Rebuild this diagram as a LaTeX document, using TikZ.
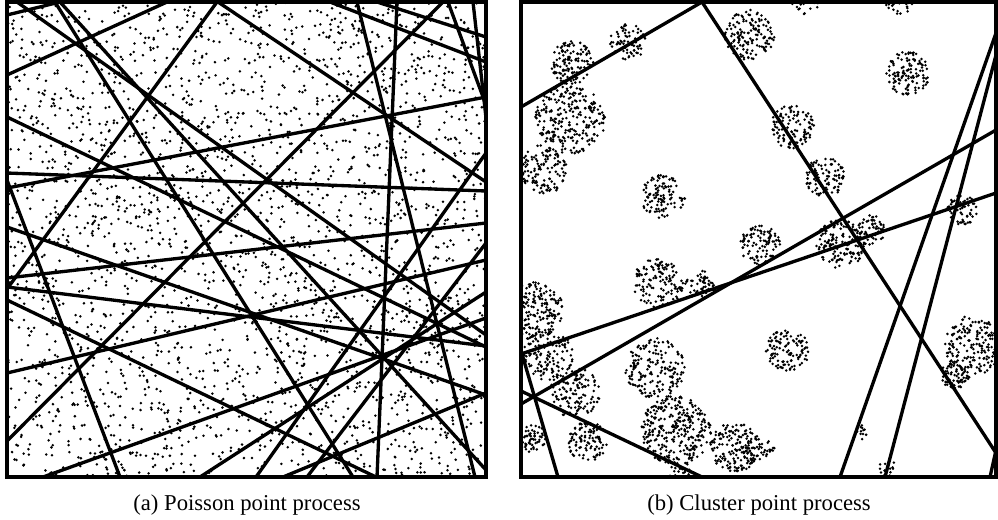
\documentclass[tikz,border=0pt]{standalone}
\usepackage{fontspec}
\setmainfont{Liberation Serif}
\begin{document}
\begin{tikzpicture}[x=0.75pt,y=-0.75pt,
  dot/.style={fill=black},
  cutline/.style={line width=2.5pt,shorten <=-30pt,shorten >=-30pt},
  frame/.style={draw=black,line width=2.4pt},
  caption/.style={font=\fontsize{17}{20}\selectfont,anchor=base}]
\useasboundingbox (0,0) rectangle (998,519);
\pgfmathsetseed{4211}

% ---- left window: homogeneous Poisson points and lines ----
\begin{scope}
  \clip (7,2) rectangle (486,477);
  \foreach \k in {1,...,2700}{
    \pgfmathsetmacro\px{7+479*rnd}
    \pgfmathsetmacro\py{2+475*rnd}
    \fill[dot] (\px,\py) circle[radius=1.05pt];
  }
  \foreach \ax/\ay/\bx/\by in {
    7/15/60/2, 7/75/167/2, 17/2/486/335, 55/2/353/477, 217/2/7/289,
    218/2/486/182, 7/117/486/347, 7/173/486/191, 7/188/486/97,
    7/227/486/395, 7/278/486/223, 7/287/486/346, 7/300/376/477,
    7/373/486/260, 7/441/443/2, 7/180/120/477, 43/477/486/318,
    200/477/486/292, 330/2/486/62, 377/2/486/37, 357/2/475/477,
    397/2/377/477, 448/2/486/105, 473/2/484/100, 486/153/256/477,
    283/477/486/393, 486/243/307/477, 60/2/486/470}{
    \draw[cutline] (\ax,\ay) -- (\bx,\by);
  }
\end{scope}
\draw[frame] (7,2) rectangle (486,477);

% ---- right window: clustered points and lines ----
\begin{scope}
  \clip (521,2) rectangle (996,477);
  \foreach \cx/\cy/\r/\n in {
    572/63/22/130, 628/42/18/70, 570/120/35/250, 542/170/25/130,
    663/197/22/110, 750/35/25/140, 908/73/22/120, 792/127/22/110,
    825/177/20/100, 805/0/15/40, 900/0/15/35, 962/210/15/55,
    840/245/25/140, 870/230/15/55, 760/245/20/100, 658/283/25/130,
    700/285/15/55, 533/310/30/220, 548/355/25/130, 655/368/30/170,
    575/393/25/130, 588/442/20/100, 676/430/35/300, 735/447/25/160,
    533/440/15/55, 680/472/12/30, 788/350/22/110, 975/345/30/190,
    955/375/15/70, 760/450/15/40, 862/433/8/12, 888/470/10/20}{
    \foreach \k in {1,...,\n}{
      \pgfmathsetmacro\ang{360*rnd}
      \pgfmathsetmacro\rad{\r*sqrt(rnd)}
      \fill[dot] ({\cx+\rad*cos(\ang)},{\cy+\rad*sin(\ang)}) circle[radius=1.05pt];
    }
  }
  \foreach \ax/\ay/\bx/\by in {
    521/107/702/2, 702/2/996/453, 521/404/996/130, 521/354/996/193,
    521/391/702/477, 522/354/558/477, 996/33/840/477, 996/55/885/477}{
    \draw[cutline] (\ax,\ay) -- (\bx,\by);
  }
  \draw[line width=2.5pt] (996,450) -- (990,477);
\end{scope}
\draw[frame] (521,2) rectangle (996,477);

% ---- captions ----
\node[caption] (capa) at (247,510) {(a) Poisson point process};
\node[caption] (capb) at (759,510) {(b) Cluster point process};
\end{tikzpicture}
\end{document}
